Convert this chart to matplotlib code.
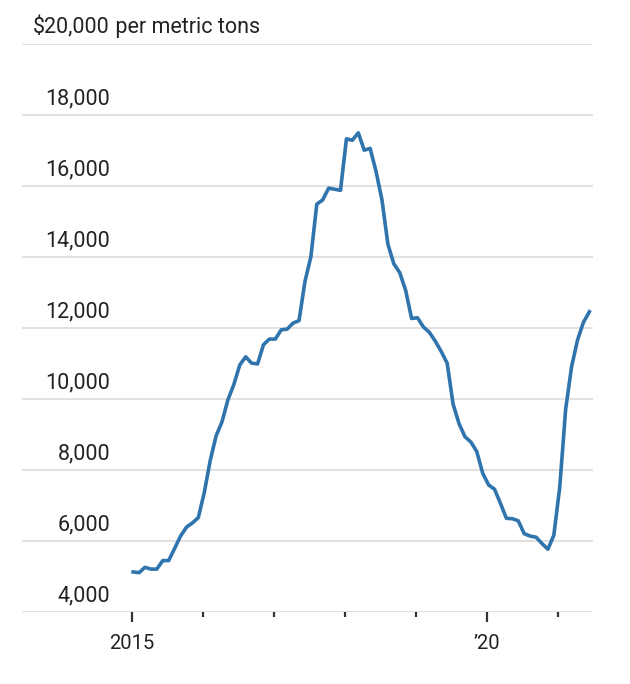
import numpy as np
import matplotlib
matplotlib.use('Agg')
import matplotlib.pyplot as plt

# monthly price, Jan 2015 .. Jun 2021 ($ per metric ton)
prices = [5120, 5100, 5250, 5200, 5200, 5440, 5440, 5780, 6130, 6380, 6500, 6650,
          7350, 8250, 8950, 9350, 9970, 10400, 10950, 11180, 11000, 10980, 11520, 11680,
          11680, 11940, 11960, 12130, 12200, 13300, 14000, 15480, 15600, 15930, 15900, 15870,
          17320, 17280, 17490, 17000, 17050, 16400, 15600, 14350, 13800, 13550, 13050, 12260,
          12280, 12020, 11870, 11620, 11330, 11000, 9850, 9300, 8930, 8780, 8510, 7900,
          7570, 7450, 7050, 6630, 6620, 6560, 6200, 6130, 6100, 5920, 5760, 6150,
          7500, 9700, 10900, 11650, 12150, 12450]
start_year = 2015
y_ticks = [4000, 6000, 8000, 10000, 12000, 14000, 16000, 18000, 20000]
y_labels = ['4,000', '6,000', '8,000', '10,000', '12,000', '14,000', '16,000', '18,000', '$20,000']
x_major = [2015, 2020]
x_major_labels = ['2015', '\u201920']
x_minor = [2016, 2017, 2018, 2019, 2021]

plt.rcParams['font.family'] = ['Roboto', 'DejaVu Sans']

W, H = 630, 684
fig = plt.figure(figsize=(W / 100, H / 100), dpi=100)
ax = fig.add_axes([22 / W, (H - 611.7) / H, (593 - 22) / W, (611.7 - 43.7) / H])

x = start_year + np.arange(len(prices)) / 12 + 0.02
ax.plot(x, prices, color='#2f74ad', lw=2.6, solid_joinstyle='round', zorder=3)

ax.set_xlim(2013.457, 2021.488)
ax.set_ylim(4000, 20000)

for v in y_ticks:
    ax.axhline(v, color='#dcdcdc', lw=1.2, zorder=1)

for s in ax.spines.values():
    s.set_visible(False)
ax.set_yticks([])
ax.set_xticks(x_major)
ax.set_xticklabels(x_major_labels, fontsize=14.5, color='#222222')
ax.set_xticks(x_minor, minor=True)
ax.tick_params(axis='x', which='major', length=7, width=1.6, color='#333333', pad=9)
ax.tick_params(axis='x', which='minor', length=3.5, width=1.6, color='#333333')

# y labels sit above the gridlines, right-aligned at a fixed x
lab_x = 2015 + (110 - 131.7) / 71.1
for v, lab in zip(y_ticks, y_labels):
    ax.text(lab_x, v + 150, lab, ha='right', va='bottom', fontsize=15.5,
            color='#222222')
ax.text(lab_x, 20000 + 150, ' per metric tons', ha='left', va='bottom',
        fontsize=15.5, color='#222222')

fig.savefig('out.png', dpi=100, facecolor='white')
